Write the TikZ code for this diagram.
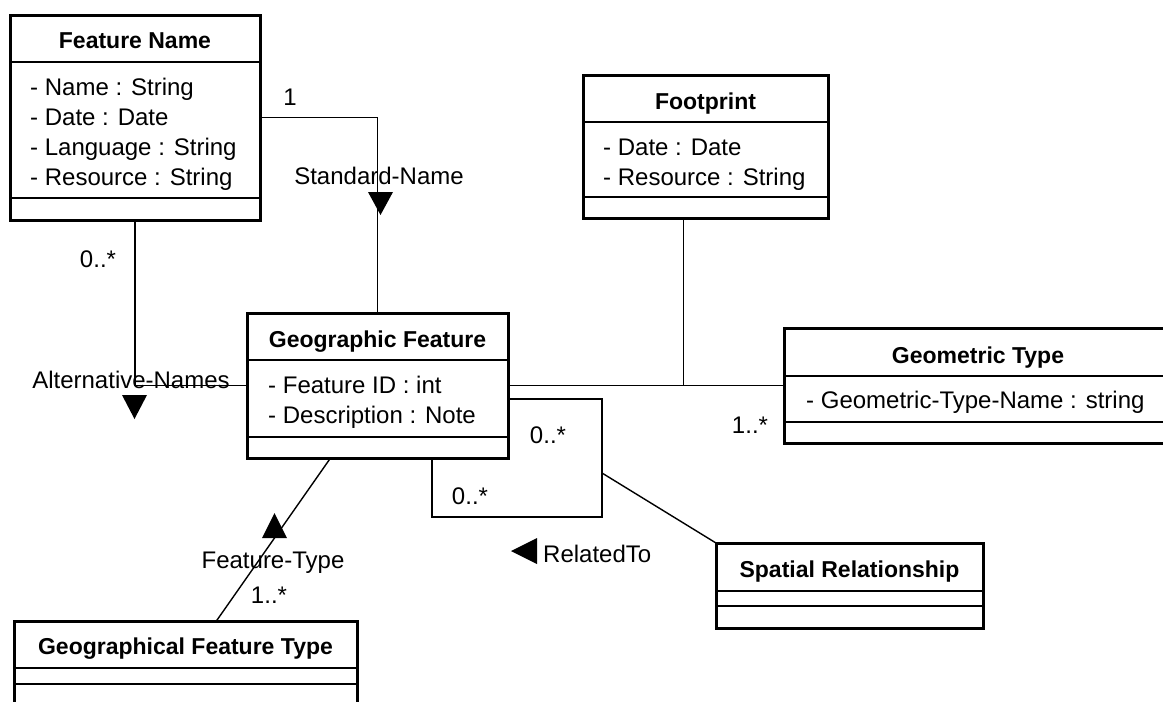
\documentclass[tikz,border=0pt]{standalone}
\usepackage{fontspec}
\setmainfont{Liberation Sans}
\usetikzlibrary{calc}

\tikzset{
  umlclass/.style={draw, line width=3pt, outer sep=0pt, inner sep=0pt},
  divider/.style={line width=1.5pt},
  assoc/.style={line width=1.4pt},
  ctitle/.style={font=\fontsize{23}{28}\selectfont\bfseries, anchor=base, inner sep=0pt},
  attr/.style={font=\fontsize{24}{28}\selectfont, anchor=base west, inner sep=0pt},
  lbl/.style={font=\fontsize{24}{28}\selectfont, anchor=base, inner sep=0pt},
}

\begin{document}
\begin{tikzpicture}[x=1pt, y=-1pt]
\useasboundingbox (0,0) rectangle (1163,702);

% Classes
\node[umlclass, minimum width=250pt, minimum height=205pt] (fn) at (135,117.5) {};
\node[umlclass, minimum width=245pt, minimum height=143pt] (fp) at (705.5,146.5) {};
\node[umlclass, minimum width=261pt, minimum height=145pt] (gf) at (377.5,385.5) {};
\node[umlclass, minimum width=388pt, minimum height=115pt] (gt) at (978,385.5) {};
\node[umlclass, minimum width=267pt, minimum height=85pt] (sr) at (849.5,585.5) {};
\node[umlclass, minimum width=343pt, minimum height=100pt] (gft) at (185.5,671) {};

% Compartment lines
\foreach \b/\p/\q in {fn/47/183, fp/47/122, gf/47/124, gt/48/94, sr/48/63, gft/47/63}{
  \draw[divider] ($(\b.north west)+(0,\p)$) -- ($(\b.north east)+(0,\p)$);
  \draw[divider] ($(\b.north west)+(0,\q)$) -- ($(\b.north east)+(0,\q)$);
}

% Class names
\node[ctitle] (fn-title) at ($(fn.north)+(0,33)$) {Feature Name};
\node[ctitle] (fp-title) at ($(fp.north)+(0,34)$) {Footprint};
\node[ctitle] (gf-title) at ($(gf.north)+(0,34)$) {Geographic Feature};
\node[ctitle] (gt-title) at ($(gt.north)+(0,35)$) {Geometric Type};
\node[ctitle] (sr-title) at ($(sr.north)+(0,34)$) {Spatial Relationship};
\node[ctitle] (gft-title) at ($(gft.north)+(0,33)$) {Geographical Feature Type};

% Attributes
\foreach \t [count=\i] in {Name : String, Date : Date, Language : String, Resource : String}
  \node[attr] (fn-a\i) at ($(fn.north west)+(20,50+30*\i)$) {- \t};
\foreach \t [count=\i] in {Date : Date, Resource : String}
  \node[attr] (fp-a\i) at ($(fp.north west)+(20,50+30*\i)$) {- \t};
\foreach \t [count=\i] in {Feature ID : int, Description : Note}
  \node[attr] (gf-a\i) at ($(gf.north west)+(21,50+30*\i)$) {- \t};
\node[attr] (gt-a1) at ($(gt.north west)+(22,80)$) {- Geometric-Type-Name : string};

% Associations
\draw[assoc] (fn.east) -| (gf.north);
\draw[assoc] (fn.south) |- (gf.west);
\draw[assoc] (gf.east) -- (gt.west);
\coordinate (fp-join) at ($(fp.south)+(-22,0)$);
\draw[assoc] (fp-join) -- (fp-join |- gf.east);
\coordinate (gf-ft) at ($(gf.south west)!0.32!(gf.south east)$);
\coordinate (gft-ft) at ($(gft.north west)!0.59!(gft.north east)$);
\draw[assoc] (gf-ft) -- (gft-ft);

% RelatedTo loop
\coordinate (gf-rel-out) at ($(gf.east)+(0,13.5)$);
\coordinate (gf-rel-in) at ($(gf.south west)+(185,0)$);
\coordinate (rel-corner) at (602,517);
\coordinate (rel-mid) at (602,473);
\draw[assoc] (gf-rel-out) -| (rel-corner) -| (gf-rel-in);
\draw[assoc] (rel-mid) -- (sr.north west);

% Association names and direction marks
\node[lbl] (std-name) at (379,184) {Standard-Name};
\fill (368,192) -- (393,192) -- (380.5,215) -- cycle;
\node[lbl] (alt-names) at (131,388) {Alternative-Names};
\fill (122,395) -- (147,395) -- (134.5,419) -- cycle;
\node[lbl] (ft-name) at (273,568) {Feature-Type};
\fill (262,538) -- (287,538) -- (274.5,513) -- cycle;
\node[attr] (rel-name) at (543,562) {RelatedTo};
\fill (511,551) -- (537,538) -- (537,564) -- cycle;

% Multiplicities
\node[lbl] (m-std) at (290,105) {1};
\node[lbl] (m-alt) at (98,267) {0..*};
\node[lbl] (m-ft) at (269,603) {1..*};
\node[lbl] (m-rel1) at (548,443) {0..*};
\node[lbl] (m-rel2) at (470,504) {0..*};
\node[lbl] (m-gt) at (750,433) {1..*};

\end{tikzpicture}
\end{document}
